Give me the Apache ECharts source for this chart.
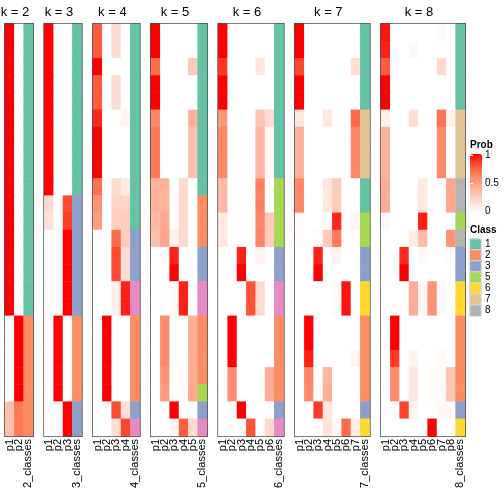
<!DOCTYPE html>
<html><head><meta charset="utf-8">
<script src="https://cdn.jsdelivr.net/npm/echarts@6/dist/echarts.min.js"></script>
<style>html,body{margin:0;padding:0;background:#fff}#c{width:504px;height:504px}</style>
</head><body><div id="c"></div>
<script>
// ---------------- data ----------------
const classColors = {1:'#66c2a5',2:'#fc8d62',3:'#8da0cb',4:'#e78ac3',5:'#a6d854',6:'#ffd92f',7:'#e5c494',8:'#b3b3b3'};
const legendClasses = [1,2,3,5,6,7,8];
const probTicks = [0, 0.5, 1];
const probColors = ['#ffffff','#ffcfbf','#ff9e81','#ff6846','#ff0000'];

const k2_prob = [
[1,0],[1,0],[1,0],[1,0],[1,0],[1,0],[1,0],[1,0],[1,0],[1,0],[1,0],[1,0],[1,0],[1,0],[1,0],[1,0],[1,0],
[0,1],[0,1],[0,1],[0,1],[0,1],
[0.33,0.67],[0.33,0.67]];
const k2_class = [1,1,1,1,1,1,1,1,1,1,1,1,1,1,1,1,1,2,2,2,2,2,2,2];

const k3_prob = [
[1,0,0],[1,0,0],[1,0,0],[1,0,0],[1,0,0],[1,0,0],[1,0,0],[1,0,0],[1,0,0],[1,0,0],
[0.18,0,0.82],[0.15,0,0.85],
[0,0,1],[0,0,1],[0,0,1],[0,0,1],[0,0,1],
[0,1,0],[0,1,0],[0,1,0],[0,1,0],[0,1,0],
[0,0,1],[0,0,1]];
const k3_class = [1,1,1,1,1,1,1,1,1,1,3,3,3,3,3,3,3,2,2,2,2,2,3,3];

const k4_prob = [
[0.78,0,0.18,0],[0.78,0,0.18,0],[1,0,0,0],[0.78,0,0.18,0],[0.78,0,0.18,0],
[0.9,0,0,0.05],[1,0,0,0],[1,0,0,0],[1,0,0,0],
[0.7,0,0.2,0.1],[0.55,0,0.23,0.22],[0.5,0,0.24,0.26],
[0,0,0.73,0.27],[0,0,0.82,0.18],[0,0,0.82,0.18],
[0,0,0.08,0.92],[0,0,0.08,0.92],
[0,1,0,0],[0,1,0,0],[0,1,0,0],[0,1,0,0],[0,1,0,0],
[0,0,0.82,0.17],[0,0,0.17,0.83]];
const k4_class = [1,1,1,1,1,1,1,1,1,1,1,1,3,3,3,4,4,2,2,2,2,2,3,4];

const k5_prob = [
[1,0,0,0,0],[1,0,0,0,0],[0.72,0,0,0,0.28],[1,0,0,0,0],[1,0,0,0,0],
[0.6,0,0,0,0.4],[0.68,0,0,0,0.32],[0.68,0,0,0,0.32],[0.68,0,0,0,0.32],
[0.4,0.4,0,0.2,0],[0.4,0.4,0,0.2,0],[0.35,0.45,0,0.2,0],[0.33,0.46,0.07,0.2,0],
[0,0.02,0.92,0,0],[0,0,1,0,0],
[0,0,0.03,0.92,0],[0,0,0.03,0.92,0],
[0,0.58,0,0,0.42],[0,0.58,0,0,0.42],[0,0.58,0,0,0.42],[0,0.55,0,0.02,0.43],[0,0.52,0,0.02,0.46],
[0,0,1,0,0],[0,0,0.04,0.77,0.19]];
const k5_class = [1,1,1,1,1,1,1,1,1,1,2,2,2,3,3,4,4,2,2,2,2,5,3,4];

const k6_prob = [
[1,0,0,0,0,0],[1,0,0,0,0,0],[0.87,0,0,0,0.13,0],[1,0,0,0,0,0],[1,0,0,0,0,0],
[0.52,0,0,0,0.3,0.18],[0.6,0,0,0,0.36,0.04],[0.6,0,0,0,0.36,0.04],[0.6,0,0,0,0.36,0.04],
[0.36,0,0,0,0.64,0],[0.36,0,0,0,0.64,0],[0.12,0,0,0,0.6,0.28],[0.12,0,0,0,0.62,0.26],
[0,0,0.92,0,0.06,0],[0,0,1,0,0,0],
[0,0,0,0.8,0.2,0],[0,0,0,0.8,0.2,0],
[0,1,0,0,0,0],[0,1,0,0,0,0],[0,1,0,0,0,0],[0,0.58,0,0,0,0.42],[0,0.58,0,0,0,0.42],
[0,0,1,0,0,0],[0,0,0,0.8,0,0.2]];
const k6_class = [1,1,1,1,1,1,1,1,1,5,5,5,5,3,3,4,4,2,2,2,2,2,3,4];

const k7_prob = [
[1,0,0,0,0,0,0],[1,0,0,0,0,0,0],[0.83,0,0,0,0,0,0.17],[1,0,0,0,0,0,0],[1,0,0,0,0,0,0],
[0.13,0,0,0.13,0,0,0.74],[0.4,0,0,0,0,0,0.6],[0.4,0,0,0,0,0,0.6],[0.4,0,0,0,0,0,0.6],
[0.6,0,0,0.13,0.27,0,0],[0.6,0,0,0.13,0.27,0,0],
[0.03,0,0,0,0.9,0,0.05],[0.02,0,0.02,0.28,0.68,0,0],
[0,0,0.92,0,0.06,0,0],[0,0,1,0,0,0,0],
[0,0,0,0,0.03,0.95,0],[0,0,0,0,0.03,0.95,0],
[0,1,0,0,0,0,0],[0,1,0,0,0,0,0],[0,0.92,0,0,0,0,0.05],[0,0.62,0,0.38,0,0,0],[0,0.58,0,0.42,0,0,0],
[0,0,0.86,0.12,0,0,0],[0,0,0,0.14,0.03,0.73,0.1]];
const k7_class = [1,1,1,1,1,7,7,7,7,1,1,5,5,3,3,6,6,2,2,2,2,2,3,6];

const k8_prob = [
[0.95,0,0,0,0,0,0.03,0],[0.92,0,0,0.04,0,0,0,0],[0.78,0,0,0,0,0,0.2,0],[1,0,0,0,0,0,0,0],[1,0,0,0,0,0,0,0],
[0.07,0,0,0.17,0,0,0.7,0.06],[0.4,0,0,0,0,0,0.6,0],[0.4,0,0,0,0,0,0.6,0],[0.4,0,0,0,0,0,0.6,0],
[0.42,0,0,0,0.12,0,0,0.46],[0.42,0,0,0,0.12,0,0,0.46],
[0.04,0,0,0,0.93,0,0,0],[0,0,0,0.1,0.35,0,0,0.55],
[0,0,0.9,0,0.03,0,0,0.02],[0,0,1,0,0,0,0,0],
[0,0,0,0.42,0.04,0.55,0.03,0],[0,0,0,0.42,0.04,0.55,0.03,0],
[0,1,0,0,0,0,0,0],[0,1,0,0,0,0,0,0],[0,0.86,0,0.06,0,0,0.03,0],
[0,0.58,0,0.12,0,0.02,0.03,0.3],[0,0.58,0,0.12,0,0.02,0.03,0.3],
[0,0,0.84,0.06,0,0,0.04,0.03],[0,0,0,0,0,1,0,0]];
const k8_class = [1,1,1,1,1,7,7,7,7,8,8,5,8,3,3,6,6,2,2,2,2,2,3,6];

// ---------------- layout ----------------
const FONT = '"Liberation Sans", Arial, Helvetica, sans-serif';
const panels = [
  {k:2, prob:k2_prob, cls:k2_class},
  {k:3, prob:k3_prob, cls:k3_class},
  {k:4, prob:k4_prob, cls:k4_class},
  {k:5, prob:k5_prob, cls:k5_class},
  {k:6, prob:k6_prob, cls:k6_class},
  {k:7, prob:k7_prob, cls:k7_class},
  {k:8, prob:k8_prob, cls:k8_class}
];
const colW = 9.33, gapW = 11.35, x0 = 5, gridTop = 24, gridH = 412;
const nRows = k2_class.length;
const rowCats = Array.from({length:nRows}, (_, i) => String(i));

const grids = [], xAxes = [], yAxes = [], probSeries = [], classSeries = [], graphics = [];
let px = x0;
panels.forEach((p, i) => {
  const ncol = p.k + 1, w = ncol * colW;
  grids.push({left:px, top:gridTop, width:w, height:gridH, show:true, borderColor:'#4d4d4d', borderWidth:2, backgroundColor:'#fff'});
  const labels = [];
  for (let c = 1; c <= p.k; c++) labels.push('p' + c);
  labels.push(p.k + '_classes');
  xAxes.push({type:'category', gridIndex:i, data:labels, position:'bottom',
    axisLine:{show:false}, axisTick:{show:false}, splitLine:{show:false},
    axisLabel:{interval:0, rotate:90, fontSize:11, margin:3, color:'#000', fontFamily:FONT}});
  yAxes.push({type:'category', gridIndex:i, data:rowCats, inverse:true, show:false});
  const pd = [];
  p.prob.forEach((row, r) => row.forEach((v, c) => pd.push([c, r, v])));
  probSeries.push({type:'heatmap', xAxisIndex:i, yAxisIndex:i, data:pd, silent:true, emphasis:{disabled:true}, progressive:0});
  classSeries.push({type:'heatmap', xAxisIndex:i, yAxisIndex:i, data:p.cls.map((v, r) => [p.k, r, v]), silent:true, emphasis:{disabled:true}, progressive:0});
  graphics.push({type:'text', silent:true, style:{text:'k = ' + p.k, x:px + w / 2 - 4, y:12,
    textAlign:'center', textVerticalAlign:'middle', align:'center', verticalAlign:'middle',
    font:'13px ' + FONT, fill:'#000'}});
  px += w + gapW;
});

// legend axis grid (Prob labels)
const LG = panels.length;
grids.push({left:470, top:155.5, width:12, height:56, show:false});
xAxes.push({type:'value', gridIndex:LG, show:false, min:0, max:1});
yAxes.push({type:'value', gridIndex:LG, min:0, max:1, interval:0.5, position:'right', z:10,
  axisLine:{show:false}, splitLine:{show:false},
  axisTick:{show:true, inside:true, length:3, lineStyle:{color:'#fff', width:1}},
  axisLabel:{fontSize:10, margin:3, color:'#000', fontFamily:FONT, formatter:v => probTicks.includes(v) ? String(v) : ''}});
yAxes.push({type:'value', gridIndex:LG, min:0, max:1, interval:0.5, position:'left', z:10,
  axisLine:{show:false}, splitLine:{show:false}, axisLabel:{show:false},
  axisTick:{show:true, inside:true, length:3, lineStyle:{color:'#fff', width:1}}});

// class legend grid
const CG = panels.length + 1;
grids.push({left:470, top:239, width:11, height:legendClasses.length * 11, show:false});
xAxes.push({type:'category', gridIndex:CG, data:['Class'], show:false});
yAxes.push({type:'category', gridIndex:CG, data:legendClasses.map(String), inverse:true, position:'right',
  axisLine:{show:false}, axisTick:{show:false}, splitLine:{show:false},
  axisLabel:{interval:0, fontSize:10, margin:4, color:'#000', fontFamily:FONT}});
const legendSeries = {type:'heatmap', xAxisIndex:CG, yAxisIndex:CG + 1,
  data:legendClasses.map((c, i) => [0, i, c]), silent:true, emphasis:{disabled:true},
  itemStyle:{borderColor:'#d9d9d9', borderWidth:1}};

graphics.push({type:'text', silent:true, style:{text:'Prob', x:470, y:145.5, textAlign:'left', align:'left',
  textVerticalAlign:'middle', verticalAlign:'middle', font:'bold 10px ' + FONT, fill:'#000'}});
graphics.push({type:'text', silent:true, style:{text:'Class', x:470, y:230, textAlign:'left', align:'left',
  textVerticalAlign:'middle', verticalAlign:'middle', font:'bold 10px ' + FONT, fill:'#000'}});

const series = probSeries.concat(classSeries, [legendSeries]);
const probIdx = probSeries.map((_, i) => i);
const classIdx = classSeries.map((_, i) => i + probSeries.length).concat([series.length - 1]);
const allClasses = Object.keys(classColors).map(Number);

const chart = echarts.init(document.getElementById('c'), null, {renderer:'canvas'});
chart.setOption({
  animation:false,
  backgroundColor:'#fff',
  grid:grids, xAxis:xAxes, yAxis:yAxes,
  visualMap:[
    {type:'continuous', seriesIndex:probIdx, min:0, max:1, inRange:{color:probColors},
     left:470, top:154, itemWidth:12, itemHeight:58, calculable:false, padding:0, orient:'vertical', hoverLink:false},
    {type:'piecewise', show:false, seriesIndex:classIdx,
     pieces:allClasses.map(c => ({value:c, label:String(c), color:classColors[c]}))}
  ],
  graphic:graphics,
  series:series
});
</script></body></html>
